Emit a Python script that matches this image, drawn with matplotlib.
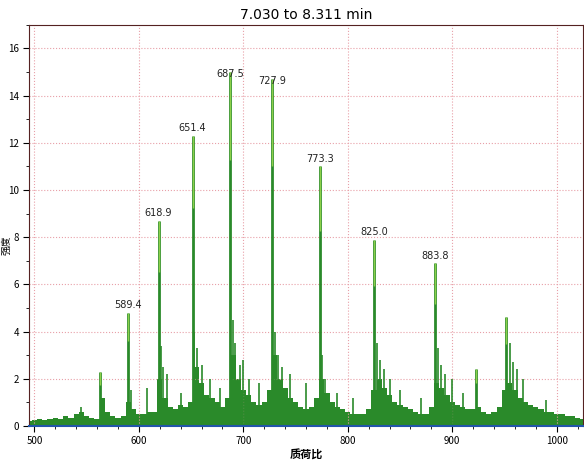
import matplotlib
matplotlib.use("Agg")
import matplotlib.pyplot as plt
import numpy as np
from matplotlib.ticker import MultipleLocator

plt.rcParams['font.family'] = ['Noto Sans CJK SC', 'DejaVu Sans']

bg_start, bg_step = 495, 5
bg_vals = [0.2,0.25,0.3,0.25,0.3,0.35,0.3,0.4,0.35,0.5,0.6,0.4,0.35,0.3,
           1.2,0.6,0.4,0.35,0.4,1.0,0.7,0.5,0.5,0.6,0.6,2.0,1.2,0.8,0.7,0.9,0.8,1.0,
           2.5,1.8,1.3,1.2,1.0,0.8,1.2,3.0,2.0,1.5,1.3,1.0,0.9,1.0,1.5,3.0,2.0,1.6,
           1.2,1.0,0.8,0.7,0.8,1.2,2.0,1.4,1.0,0.8,0.7,0.6,0.5,0.5,0.5,0.7,1.5,2.0,
           1.6,1.3,1.0,0.9,0.8,0.7,0.6,0.5,0.5,0.8,1.8,1.6,1.3,1.0,0.9,0.8,0.7,0.7,
           0.8,0.6,0.5,0.6,0.8,1.5,1.8,1.5,1.2,1.0,0.9,0.8,0.7,0.6,0.6,0.5,0.5,0.4,
           0.4,0.35,0.3]
bg_mz = [bg_start + bg_step*i for i in range(len(bg_vals))]

peak_mz = [563.0, 589.4, 618.9, 651.4, 687.5, 727.9, 773.3, 825.0, 883.8, 923.0, 951.5]
peak_int = [2.3, 4.8, 8.7, 12.3, 15.0, 14.7, 11.0, 7.9, 6.9, 2.4, 4.6]
label_peaks = [589.4, 618.9, 651.4, 687.5, 727.9, 773.3, 825.0, 883.8]

minor_mz = [621,623,653,656,690,692,730,733,775,828,831,886,889,955,958,968,700,705,745,760,
            840,850,900,545,608,640,668,678,715,790,805,870,910,990,592,566,627,660,697,737,778,835,893,962]
minor_int = [3.4,2.5,4.0,3.3,4.5,3.5,4.0,3.0,3.0,3.5,2.8,3.3,2.6,3.5,2.7,2.0,2.8,2.0,2.2,1.8,
             2.0,1.5,2.0,0.8,1.6,1.4,2.0,1.6,1.8,1.4,1.2,1.2,1.4,1.1,1.5,0.9,2.2,2.6,2.6,2.5,2.0,2.4,2.2,2.4]

fig = plt.figure(figsize=(5.84, 4.69), dpi=100)
ax = fig.add_axes([0.050, 0.092, 0.948, 0.855])
green = '#2a8a2a'
ax.fill_between(bg_mz, 0, bg_vals, step='mid', color=green, lw=0)
ax.vlines(minor_mz, 0, minor_int, color=green, lw=1.2)
ax.vlines(peak_mz, 0, peak_int, color=green, lw=2.0)
ax.vlines(peak_mz, np.array(peak_int)*0.75, peak_int, color='#8ccf4a', lw=1.0)
for m, h in zip(peak_mz, peak_int):
    if m in label_peaks:
        ax.text(m, h - 0.3 if h > 14 else h + 0.1, f"{m:.1f}", ha='center', va='bottom', fontsize=7,
                family='DejaVu Sans', color='#222222')

ax.set_xlim(495, 1025)
ax.set_ylim(0, 17)
ax.set_xticks([500,600,700,800,900,1000])
ax.set_yticks(range(0, 17, 2))
ax.xaxis.set_minor_locator(MultipleLocator(20))
ax.yaxis.set_minor_locator(MultipleLocator(1))
ax.tick_params(labelsize=7, length=4)
ax.tick_params(which='minor', length=2)
ax.grid(True, color='#e8a0a8', ls=':', lw=0.8)
for s in ax.spines.values():
    s.set_color('#552222')
ax.spines['bottom'].set_color('#2255aa')
ax.spines['bottom'].set_linewidth(1.5)
ax.set_title("7.030 to 8.311 min", fontsize=10, pad=4, family='DejaVu Sans')
ax.set_xlabel("质荷比", fontsize=8, fontweight='bold', labelpad=2)
ax.set_ylabel("强度", fontsize=7)
ax.yaxis.set_label_coords(-0.033, 0.45)
fig.savefig("out.png", dpi=100)
